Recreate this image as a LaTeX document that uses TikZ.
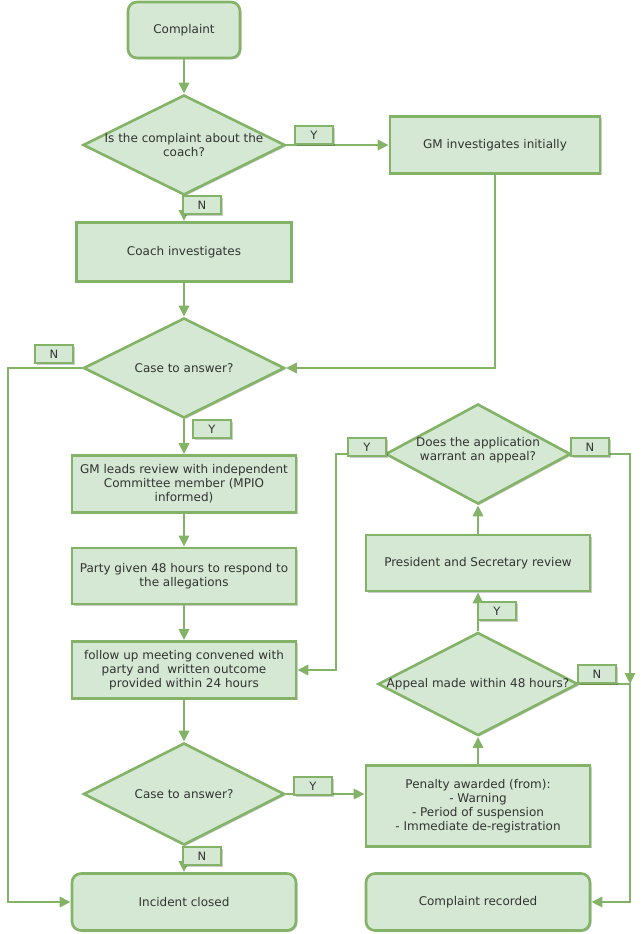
\documentclass[tikz,border=0pt]{standalone}
\usepackage{fontspec}
\setmainfont{DejaVu Sans}
\usetikzlibrary{shapes.geometric,arrows.meta,shadows}
\definecolor{gfill}{HTML}{D5E8D4}
\definecolor{gline}{HTML}{82B366}
\definecolor{gtext}{HTML}{333333}
\tikzset{
  shd/.style={drop shadow={shadow xshift=1.5pt,shadow yshift=-1.5pt,fill=black,opacity=0.2}},
  stepbox/.style={draw=gline,fill=gfill,line width=2.6pt,text=gtext,align=center,inner sep=0pt,shd,
    font=\fontsize{12}{14}\selectfont},
  endbox/.style={stepbox,rounded corners=9pt},
  dia/.style={diamond,draw=gline,fill=gfill,line width=2.6pt,inner sep=0pt,shd},
  diatext/.style={text=gtext,align=center,inner sep=0pt,font=\fontsize{12}{14}\selectfont},
  yn/.style={draw=gline,fill=gfill,line width=2pt,text=gtext,inner sep=0pt,
    minimum width=38pt,minimum height=18pt,font=\fontsize{11.5}{13}\selectfont,shd},
  conn/.style={draw=gline,line width=2.8pt,-{Triangle[length=11pt,width=10pt]}},
}
\begin{document}
\begin{tikzpicture}[x=1pt,y=1pt]
\useasboundingbox (0,0) rectangle (640,-934);
% nodes
\node[endbox,minimum width=112pt,minimum height=56pt] (c1) at (184,-30) {Complaint};
\node[dia,minimum width=202pt,minimum height=100pt] (d1) at (184,-145) {};
\node[diatext] (d1t) at (d1) {Is the complaint about the\\coach?};
\node[stepbox,minimum width=210pt,minimum height=57pt] (gm) at (495,-145) {GM investigates initially};
\node[stepbox,minimum width=215pt,minimum height=59pt] (coach) at (184,-252) {Coach investigates};
\node[dia,minimum width=201pt,minimum height=100pt] (d2) at (184,-368) {};
\node[diatext] (d2t) at (d2) {Case to answer?};
\node[stepbox,minimum width=224pt,minimum height=57pt] (gml) at (184,-484) {GM leads review with independent\\Committee member (MPIO\\informed)};
\node[stepbox,minimum width=224pt,minimum height=56pt] (party) at (184,-576) {Party given 48 hours to respond to\\the allegations};
\node[stepbox,minimum width=224pt,minimum height=57pt] (fu) at (184,-670) {follow up meeting convened with\\party and \ written outcome\\provided within 24 hours};
\node[dia,minimum width=201pt,minimum height=102pt] (d3) at (184,-794) {};
\node[diatext] (d3t) at (d3) {Case to answer?};
\node[stepbox,minimum width=224pt,minimum height=81pt] (pen) at (478,-806) {Penalty awarded (from):\\- Warning\\- Period of suspension\\- Immediate de-registration};
\node[endbox,minimum width=224pt,minimum height=57pt] (inc) at (184,-902) {Incident closed};
\node[endbox,minimum width=224pt,minimum height=57pt] (rec) at (478,-902) {Complaint recorded};
\node[dia,minimum width=200pt,minimum height=103pt] (d4) at (478,-684) {};
\node[diatext] (d4t) at (d4) {Appeal made within 48 hours?};
\node[stepbox,minimum width=224pt,minimum height=56pt] (pres) at (478,-563) {President and Secretary review};
\node[dia,minimum width=185pt,minimum height=100pt] (d5) at (478,-454) {};
\node[diatext] (d5t) at (478,-450) {Does the application\\warrant an appeal?};
% helper coordinates
\coordinate (lft) at (8,-368);
\coordinate (ycol) at (336,-454);
\coordinate (jn) at (630,-684);
% connectors
\draw[conn] (c1.south) -- (d1.north);
\draw[conn] (d1.east) -- (gm.west);
\draw[conn] (d1.south) -- (coach.north);
\draw[conn] (coach.south) -- (d2.north);
\draw[conn] (gm.south) -- (gm.south |- d2.east) -- (d2.east);
\draw[conn] (d2.west) -- (lft) -- (lft |- inc.west) -- (inc.west);
\draw[conn] (d2.south) -- (gml.north);
\draw[conn] (gml.south) -- (party.north);
\draw[conn] (party.south) -- (fu.north);
\draw[conn] (fu.south) -- (d3.north);
\draw[conn] (d3.east) -- (d3.east -| pen.west);
\draw[conn] (d3.south) -- (inc.north);
\draw[conn] (pen.north) -- (d4.south);
\draw[conn] (d4.north) -- (pres.south);
\draw[conn] (pres.north) -- (d5.south);
\draw[conn] (d5.west) -- (ycol) -- (ycol |- fu.east) -- (fu.east);
\draw[conn] (d5.east) -- (d5.east -| jn) -- (jn);
\draw[conn] (d4.east) -- (jn) -- (jn |- rec.east) -- (rec.east);
% Y/N labels
\node[yn] (y1) at (314,-135) {Y};
\node[yn] (n1) at (202,-205) {N};
\node[yn] (n2) at (54,-354) {N};
\node[yn] (y2) at (212,-429) {Y};
\node[yn] (y3) at (313,-786) {Y};
\node[yn] (n3) at (202,-856) {N};
\node[yn] (y4) at (497,-611) {Y};
\node[yn] (n4) at (597,-674) {N};
\node[yn] (y5) at (367,-447) {Y};
\node[yn] (n5) at (590,-447) {N};
\end{tikzpicture}
\end{document}
